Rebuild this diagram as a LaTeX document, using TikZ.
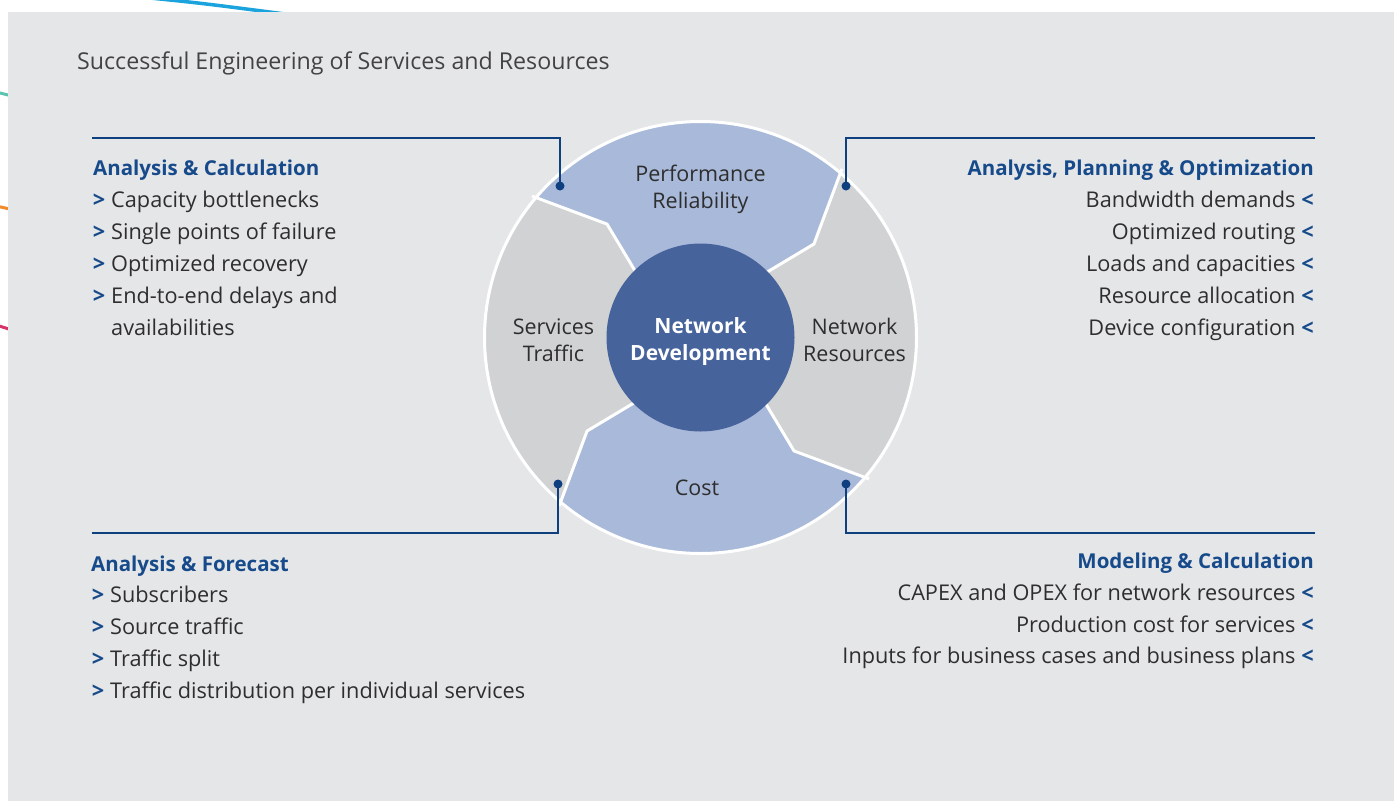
\documentclass[tikz,border=0pt]{standalone}
\usepackage{fontspec}
\setmainfont{Open Sans}

\definecolor{panel}{HTML}{E5E6E8}
\definecolor{ringgray}{HTML}{D1D2D4}
\definecolor{ringblue}{HTML}{A9B9D9}
\definecolor{hubblue}{HTML}{46639B}
\definecolor{headblue}{HTML}{164A8A}
\definecolor{lineblue}{HTML}{0E3F7E}
\definecolor{bodytext}{HTML}{2E2E2E}
\definecolor{decoblue}{HTML}{1AA3DC}
\definecolor{decoteal}{HTML}{5BC4B0}
\definecolor{decoorange}{HTML}{F28C28}
\definecolor{decopink}{HTML}{D6336C}

\newcommand{\gtmark}{\llap{\textcolor{headblue}{\bfseries >}\hspace{6pt}}}
\newcommand{\ltmark}{\hspace{6pt}\textcolor{headblue}{\bfseries <}}

\tikzset{
  head/.style={font=\fontsize{20.5}{26}\selectfont\bfseries, text=headblue, inner sep=0pt},
  item/.style={font=\fontsize{21.7}{26}\selectfont, text=bodytext, inner sep=0pt},
  ringlabel/.style={font=\fontsize{21.5}{27}\selectfont, text=bodytext, align=center, inner sep=0pt},
  lead/.style={draw=lineblue, line width=1.5pt},
}

\begin{document}
\begin{tikzpicture}[x=1pt,y=-1pt]
	\useasboundingbox (0,0) rectangle (1394,801);
	\fill[white] (0,0) rectangle (1394,801);
	% coloured strokes behind the panel
	\draw[decoblue, line width=3.5pt] (140,-3) .. controls (200,3) .. (285,14);
	\draw[decoteal, line width=3pt] (-4,92) -- (12,96);
	\draw[decoorange, line width=3pt] (-4,206) -- (12,209.5);
	\draw[decopink, line width=3pt] (-4,325) -- (12,330);
	\fill[panel] (8,12) rectangle (1394,801);

	% ring
	\begin{scope}[shift={(700.5,337.5)}, yscale=-1]
		\fill[ringgray] (0,0) circle (216);
		\fill[ringblue] (50:216) arc[start angle=50, end angle=140, radius=216]
			-- (129.5:147) -- (135:94) -- (0,0) -- (45:94) -- (39.5:147) -- cycle;
		\fill[ringblue] (230:216) arc[start angle=230, end angle=320, radius=216]
			-- (309.5:147) -- (315:94) -- (0,0) -- (225:94) -- (219.5:147) -- cycle;
		\foreach \a in {0,90,180,270}
			\draw[white, line width=3pt, line join=miter] (50+\a:220) -- (39.5+\a:147) -- (45+\a:90);
		\draw[white, line width=3pt] (0,0) circle (216);
	\end{scope}
	\node[circle, fill=hubblue, minimum size=188pt, inner sep=0pt] (hub) at (700.5,337.5) {};
	\node[text=white, align=center, inner sep=0pt, font=\fontsize{21}{27}\selectfont\bfseries]
		(hubtext) at (700.5,342) {Network\\Development};
	\node[ringlabel] (perf) at (700.5,189) {Performance\\Reliability};
	\node[ringlabel] (svc) at (553.5,340) {Services\\Traffic};
	\node[ringlabel] (netres) at (854.5,340) {Network\\Resources};
	\node[ringlabel] (cost) at (697,488) {Cost};

	% title
	\node[item, font=\fontsize{23.2}{28}\selectfont, text=bodytext!90, anchor=base west] (title) at (77,69)
		{Successful Engineering of Services and Resources};

	% leader lines
	\coordinate (dotTL) at (560,186);
	\coordinate (dotTR) at (846,186);
	\coordinate (dotBL) at (558,484);
	\coordinate (dotBR) at (846,484);
	\coordinate (endTL) at (92,138);
	\coordinate (endTR) at (1315,138);
	\coordinate (endBL) at (92,533);
	\coordinate (endBR) at (1315,533);
	\draw[lead] (dotTL) |- (endTL);
	\draw[lead] (dotTR) |- (endTR);
	\draw[lead] (dotBL) |- (endBL);
	\draw[lead] (dotBR) |- (endBR);
	\fill[lineblue] (dotTL) circle (4.5);
	\fill[lineblue] (dotTR) circle (4.5);
	\fill[lineblue] (dotBL) circle (4.5);
	\fill[lineblue] (dotBR) circle (4.5);

	% top left
	\node[head, anchor=base west] (calc) at (93,175) {Analysis \& Calculation};
	\node[item, anchor=base west] (calc1) at (111,207) {\gtmark Capacity bottlenecks};
	\node[item, anchor=base west] (calc2) at (111,239) {\gtmark Single points of failure};
	\node[item, anchor=base west] (calc3) at (111,271) {\gtmark Optimized recovery};
	\node[item, anchor=base west] (calc4) at (111,303) {\gtmark End-to-end delays and};
	\node[item, anchor=base west] (calc5) at (111,335) {availabilities};

	% top right
	\node[head, anchor=base east] (plan) at (1314,175) {Analysis, Planning \& Optimization};
	\node[item, anchor=base east] (plan1) at (1314,207) {Bandwidth demands\ltmark};
	\node[item, anchor=base east] (plan2) at (1314,239) {Optimized routing\ltmark};
	\node[item, anchor=base east] (plan3) at (1314,271) {Loads and capacities\ltmark};
	\node[item, anchor=base east] (plan4) at (1314,303) {Resource allocation\ltmark};
	\node[item, anchor=base east] (plan5) at (1314,335) {Device configuration\ltmark};

	% bottom left
	\node[head, anchor=base west] (fcst) at (91,571) {Analysis \& Forecast};
	\node[item, anchor=base west] (fcst1) at (110,602) {\gtmark Subscribers};
	\node[item, anchor=base west] (fcst2) at (110,634) {\gtmark Source traffic};
	\node[item, anchor=base west] (fcst3) at (110,666) {\gtmark Traffic split};
	\node[item, anchor=base west] (fcst4) at (110,698) {\gtmark Traffic distribution per individual services};

	% bottom right
	\node[head, anchor=base east] (model) at (1314,568) {Modeling \& Calculation};
	\node[item, anchor=base east] (model1) at (1314,600) {CAPEX and OPEX for network resources\ltmark};
	\node[item, anchor=base east] (model2) at (1314,632) {Production cost for services\ltmark};
	\node[item, anchor=base east] (model3) at (1314,663) {Inputs for business cases and business plans\ltmark};
\end{tikzpicture}
\end{document}
